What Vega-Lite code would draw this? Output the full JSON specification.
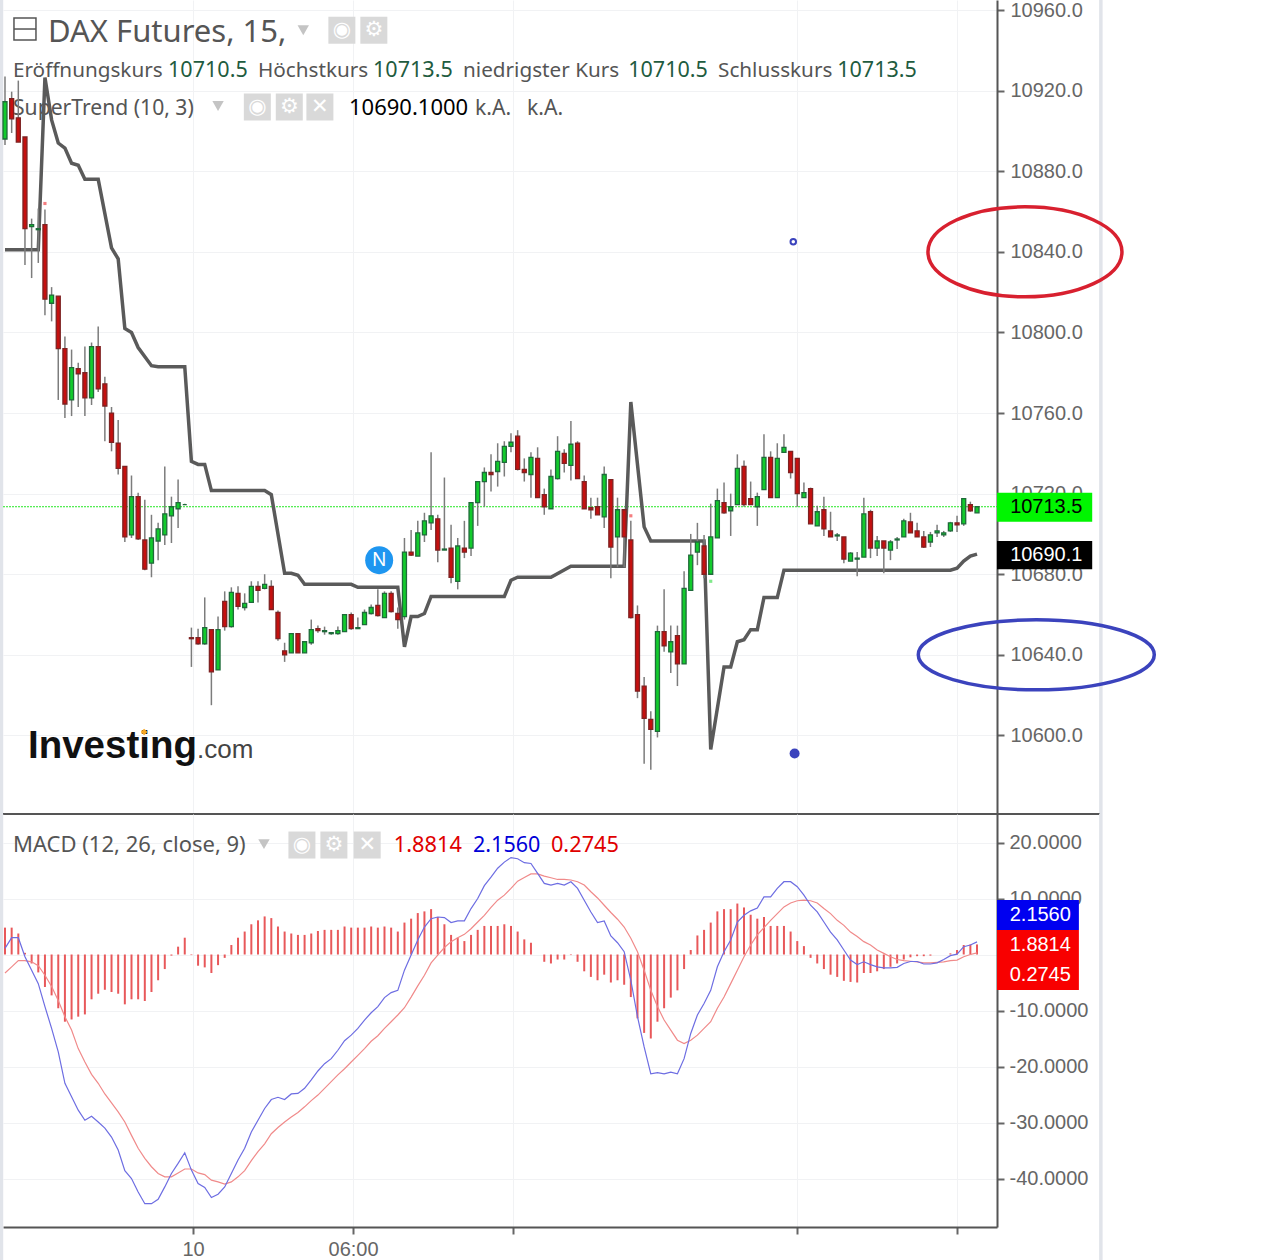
{
"$schema":"https://vega.github.io/schema/vega-lite/v6.json",
"description":"DAX Futures 15 minute candles with SuperTrend and MACD panels",
"background":"white",
"padding":{"top":-2,"left":-3,"right":0,"bottom":0},
"spacing":0,
"bounds":"flush",
"config":{"view":{"stroke":null},"text":{"font":"Noto Sans"},"concat":{"spacing":0}},
"datasets":{
"candles":[
{"bar":0,"open":10896,"high":10927,"low":10893,"close":10914.5},{"bar":1,"open":10916,"high":10919.5,"low":10899,"close":10906},{"bar":2,"open":10906.5,"high":10925,"low":10894.5,"close":10894.5},{"bar":3,"open":10897,"high":10897,"low":10833.5,"close":10851.5},{"bar":4,"open":10852.5,"high":10856.5,"low":10827,"close":10853.5},{"bar":5,"open":10851,"high":10861.5,"low":10834.5,"close":10851.5},{"bar":6,"open":10853.5,"high":10861,"low":10808.5,"close":10816.5},{"bar":7,"open":10814.5,"high":10822.5,"low":10805.5,"close":10818.5},{"bar":8,"open":10818,"high":10818,"low":10766.5,"close":10792},{"bar":9,"open":10792,"high":10798,"low":10757.5,"close":10764.5},
{"bar":10,"open":10766.5,"high":10791.5,"low":10758.5,"close":10782.5},{"bar":11,"open":10782,"high":10785,"low":10763,"close":10779.5},{"bar":12,"open":10780,"high":10793,"low":10758.5,"close":10767.5},{"bar":13,"open":10767.5,"high":10795,"low":10764,"close":10793},{"bar":14,"open":10793,"high":10803,"low":10770.5,"close":10772},{"bar":15,"open":10774.5,"high":10778,"low":10746,"close":10763.5},{"bar":16,"open":10760,"high":10763,"low":10741,"close":10745.5},{"bar":17,"open":10745,"high":10756.5,"low":10729.5,"close":10732.5},{"bar":18,"open":10733.5,"high":10733.5,"low":10696,"close":10698.5},{"bar":19,"open":10699.5,"high":10729,"low":10698,"close":10718.5},
{"bar":20,"open":10718.5,"high":10720.5,"low":10697,"close":10697.5},{"bar":21,"open":10697,"high":10717,"low":10682,"close":10682.5},{"bar":22,"open":10685.5,"high":10709.5,"low":10678.5,"close":10698},{"bar":23,"open":10696.5,"high":10705.5,"low":10687,"close":10702.5},{"bar":24,"open":10699.5,"high":10733.5,"low":10694.5,"close":10710},{"bar":25,"open":10709,"high":10718.5,"low":10695.5,"close":10713.5},{"bar":26,"open":10712.5,"high":10727,"low":10703,"close":10715.5},{"bar":27,"open":10714.5,"high":10715,"low":10714.5,"close":10714.5},{"bar":28,"open":10648.5,"high":10653.5,"low":10634,"close":10648},{"bar":29,"open":10648.5,"high":10653,"low":10645,"close":10645.5},
{"bar":30,"open":10645.5,"high":10668.5,"low":10645,"close":10653.5},{"bar":31,"open":10652.5,"high":10652.5,"low":10615,"close":10631.5},{"bar":32,"open":10632.5,"high":10659,"low":10632.5,"close":10652.5},{"bar":33,"open":10666.5,"high":10671.5,"low":10652,"close":10654},{"bar":34,"open":10654,"high":10673.5,"low":10653.5,"close":10671},{"bar":35,"open":10670.5,"high":10674,"low":10662.5,"close":10664},{"bar":36,"open":10663.5,"high":10670.5,"low":10662,"close":10665.5},{"bar":37,"open":10666,"high":10676.5,"low":10666,"close":10674},{"bar":38,"open":10674,"high":10676.5,"low":10666,"close":10672},{"bar":39,"open":10673,"high":10680,"low":10672.5,"close":10675},
{"bar":40,"open":10674,"high":10677,"low":10662.5,"close":10662.5},{"bar":41,"open":10661,"high":10662,"low":10647,"close":10648},{"bar":42,"open":10642,"high":10646,"low":10636.5,"close":10640},{"bar":43,"open":10641,"high":10650.5,"low":10641,"close":10650.5},{"bar":44,"open":10650.5,"high":10650.5,"low":10641,"close":10641},{"bar":45,"open":10641,"high":10646.5,"low":10641,"close":10646.5},{"bar":46,"open":10646,"high":10657.5,"low":10645,"close":10652.5},{"bar":47,"open":10653,"high":10654.5,"low":10651,"close":10652},{"bar":48,"open":10651.5,"high":10654,"low":10650,"close":10652},{"bar":49,"open":10650.5,"high":10651,"low":10650,"close":10651},
{"bar":50,"open":10650.5,"high":10654,"low":10650,"close":10652},{"bar":51,"open":10651.5,"high":10660,"low":10651.5,"close":10660},{"bar":52,"open":10660,"high":10661,"low":10652.5,"close":10653},{"bar":53,"open":10653,"high":10658.5,"low":10653,"close":10653.5},{"bar":54,"open":10655,"high":10662.5,"low":10655,"close":10661},{"bar":55,"open":10660.5,"high":10665,"low":10660,"close":10663.5},{"bar":56,"open":10664.5,"high":10672.5,"low":10659,"close":10659.5},{"bar":57,"open":10658.5,"high":10671.5,"low":10658.5,"close":10670.5},{"bar":58,"open":10670.5,"high":10671.5,"low":10661,"close":10661.5},{"bar":59,"open":10660.5,"high":10663.5,"low":10653,"close":10657.5},
{"bar":60,"open":10659,"high":10698,"low":10657.5,"close":10691},{"bar":61,"open":10691,"high":10702,"low":10689,"close":10689.5},{"bar":62,"open":10689,"high":10706.5,"low":10689,"close":10700.5},{"bar":63,"open":10699.5,"high":10710.5,"low":10696,"close":10706.5},{"bar":64,"open":10705.5,"high":10740.5,"low":10702,"close":10709},{"bar":65,"open":10707.5,"high":10709.5,"low":10686,"close":10692},{"bar":66,"open":10692,"high":10728,"low":10692,"close":10692.5},{"bar":67,"open":10693,"high":10704.5,"low":10675.5,"close":10678.5},{"bar":68,"open":10676.5,"high":10698,"low":10672.5,"close":10694},{"bar":69,"open":10693,"high":10706.5,"low":10688,"close":10691},
{"bar":70,"open":10693,"high":10715.5,"low":10689,"close":10715.5},{"bar":71,"open":10715.5,"high":10726,"low":10704,"close":10726},{"bar":72,"open":10726,"high":10733,"low":10713.5,"close":10730.5},{"bar":73,"open":10730.5,"high":10739.5,"low":10721,"close":10729.5},{"bar":74,"open":10731,"high":10745,"low":10723.5,"close":10736},{"bar":75,"open":10735.5,"high":10746,"low":10728.5,"close":10743.5},{"bar":76,"open":10743.5,"high":10750,"low":10740.5,"close":10745.5},{"bar":77,"open":10748.5,"high":10751.5,"low":10731.5,"close":10732},{"bar":78,"open":10732,"high":10737.5,"low":10726,"close":10730.5},{"bar":79,"open":10729.5,"high":10740.5,"low":10718,"close":10738},
{"bar":80,"open":10737.5,"high":10743,"low":10718,"close":10718},{"bar":81,"open":10719.5,"high":10722.5,"low":10709.5,"close":10713.5},{"bar":82,"open":10712.5,"high":10732,"low":10712.5,"close":10728.5},{"bar":83,"open":10727.5,"high":10748.5,"low":10727,"close":10741},{"bar":84,"open":10740,"high":10742,"low":10730.5,"close":10735},{"bar":85,"open":10734,"high":10756,"low":10726.5,"close":10744.5},{"bar":86,"open":10745,"high":10746,"low":10727.5,"close":10727.5},{"bar":87,"open":10726,"high":10729,"low":10712.5,"close":10712.5},{"bar":88,"open":10713,"high":10718,"low":10707.5,"close":10712},{"bar":89,"open":10713.5,"high":10718,"low":10709.5,"close":10709.5},
{"bar":90,"open":10708.5,"high":10733.5,"low":10703,"close":10729.5},{"bar":91,"open":10727,"high":10727,"low":10678,"close":10693.5},{"bar":92,"open":10698.5,"high":10718,"low":10683.5,"close":10712},{"bar":93,"open":10712,"high":10712,"low":10683.5,"close":10698.5},{"bar":94,"open":10697,"high":10706.5,"low":10658,"close":10658.5},{"bar":95,"open":10660,"high":10664.5,"low":10618.5,"close":10622},{"bar":96,"open":10624.5,"high":10629,"low":10586,"close":10608.5},{"bar":97,"open":10608,"high":10612,"low":10583,"close":10603},{"bar":98,"open":10602,"high":10654.5,"low":10599,"close":10651.5},{"bar":99,"open":10651.5,"high":10672.5,"low":10641.5,"close":10644.5},
{"bar":100,"open":10641.5,"high":10654.5,"low":10631,"close":10646.5},{"bar":101,"open":10649.5,"high":10654.5,"low":10624.5,"close":10635.5},{"bar":102,"open":10635.5,"high":10681.5,"low":10635.5,"close":10673},{"bar":103,"open":10672,"high":10700,"low":10672,"close":10689.5},{"bar":104,"open":10691,"high":10705.5,"low":10684.5,"close":10696},{"bar":105,"open":10694,"high":10699.5,"low":10678,"close":10680},{"bar":106,"open":10680,"high":10715,"low":10680,"close":10698.5},{"bar":107,"open":10698,"high":10722.5,"low":10698,"close":10716.5},{"bar":108,"open":10715.5,"high":10725.5,"low":10710,"close":10710.5},{"bar":109,"open":10711.5,"high":10720,"low":10699,"close":10713.5},
{"bar":110,"open":10714.5,"high":10739.5,"low":10714.5,"close":10732.5},{"bar":111,"open":10733.5,"high":10736.5,"low":10713.5,"close":10714.5},{"bar":112,"open":10717.5,"high":10726,"low":10714.5,"close":10714.5},{"bar":113,"open":10713.5,"high":10720.5,"low":10704,"close":10718.5},{"bar":114,"open":10722,"high":10749.5,"low":10722,"close":10738},{"bar":115,"open":10738,"high":10741,"low":10718,"close":10718},{"bar":116,"open":10718,"high":10745,"low":10718,"close":10737.5},{"bar":117,"open":10740.5,"high":10749.5,"low":10740.5,"close":10743},{"bar":118,"open":10741,"high":10741,"low":10727.5,"close":10730.5},{"bar":119,"open":10737.5,"high":10737.5,"low":10713.5,"close":10720},
{"bar":120,"open":10718,"high":10725.5,"low":10718,"close":10720.5},{"bar":121,"open":10722.5,"high":10723,"low":10705,"close":10705},{"bar":122,"open":10704,"high":10714,"low":10704,"close":10711},{"bar":123,"open":10712,"high":10718.5,"low":10699,"close":10702.5},{"bar":124,"open":10701.5,"high":10711,"low":10698.5,"close":10698.5},{"bar":125,"open":10699,"high":10700.5,"low":10696.5,"close":10699.5},{"bar":126,"open":10698.5,"high":10698.5,"low":10685.5,"close":10687.5},{"bar":127,"open":10686.5,"high":10691,"low":10686.5,"close":10690.5},{"bar":128,"open":10687.5,"high":10691,"low":10679,"close":10688},{"bar":129,"open":10688.5,"high":10718,"low":10688.5,"close":10710},
{"bar":130,"open":10711,"high":10712,"low":10688,"close":10693},{"bar":131,"open":10693,"high":10699,"low":10689,"close":10696.5},{"bar":132,"open":10696.5,"high":10696.5,"low":10680.5,"close":10693},{"bar":133,"open":10692,"high":10697,"low":10687,"close":10696},{"bar":134,"open":10697,"high":10698.5,"low":10692.5,"close":10697.5},{"bar":135,"open":10698.5,"high":10707.5,"low":10698.5,"close":10706.5},{"bar":136,"open":10706,"high":10710.5,"low":10700.5,"close":10700.5},{"bar":137,"open":10701.5,"high":10705.5,"low":10698.5,"close":10698.5},{"bar":138,"open":10698.5,"high":10701.5,"low":10693,"close":10693.5},{"bar":139,"open":10696,"high":10701,"low":10693.5,"close":10699.5},
{"bar":140,"open":10700.5,"high":10704.5,"low":10698.5,"close":10701.5},{"bar":141,"open":10699.5,"high":10701.5,"low":10698.5,"close":10700.5},{"bar":142,"open":10701.5,"high":10706,"low":10701,"close":10705.5},{"bar":143,"open":10705.5,"high":10709,"low":10701,"close":10704.5},{"bar":144,"open":10705,"high":10717.5,"low":10704,"close":10717.5},{"bar":145,"open":10714.5,"high":10716,"low":10711,"close":10711.5},{"bar":146,"open":10710.5,"high":10713.5,"low":10710.5,"close":10713.5}
],
"supertrend":[
{"bar":0,"price":10841},{"bar":5,"price":10841},{"bar":6,"price":10926.5},{"bar":7,"price":10905.5},{"bar":8,"price":10894},{"bar":9,"price":10891.5},{"bar":10,"price":10884},{"bar":11,"price":10883},{"bar":12,"price":10876},{"bar":14,"price":10876},{"bar":16,"price":10842},{"bar":17,"price":10836.5},{"bar":18,"price":10802},{"bar":19,"price":10800},{"bar":20,"price":10792.5},{"bar":22,"price":10783.5},{"bar":23,"price":10783},{"bar":27,"price":10783},{"bar":28,"price":10736},{"bar":29,"price":10734.5},{"bar":30,"price":10734.5},{"bar":31,"price":10721.5},{"bar":39,"price":10721.5},{"bar":40,"price":10719.5},{"bar":42,"price":10680.5},{"bar":43,"price":10680.5},{"bar":44,"price":10679.5},{"bar":45,"price":10675},{"bar":52,"price":10675},{"bar":53,"price":10673.5},{"bar":59,"price":10673.5},{"bar":60,"price":10644},{"bar":61,"price":10659},{"bar":62,"price":10659},{"bar":63,"price":10660.5},{"bar":64,"price":10669},{"bar":75,"price":10669},{"bar":76,"price":10677},{"bar":77,"price":10678.5},{"bar":82,"price":10678.5},{"bar":85,"price":10684},{"bar":93,"price":10684},{"bar":94,"price":10765.5},{"bar":96,"price":10703.5},{"bar":97,"price":10696.5},{"bar":105,"price":10696.5},{"bar":106,"price":10593},{"bar":108,"price":10634},{"bar":109,"price":10634},{"bar":110,"price":10646.5},{"bar":111,"price":10647.5},{"bar":112,"price":10652.5},{"bar":113,"price":10652.5},{"bar":114,"price":10668.5},{"bar":116,"price":10668.5},{"bar":117,"price":10682},{"bar":142,"price":10682},{"bar":143,"price":10683},{"bar":144,"price":10686.5},{"bar":145,"price":10689},{"bar":146,"price":10690}
],
"macd":[
{"bar":0,"macd":1.1,"signal":-3.3,"hist":4.8},{"bar":1,"macd":3,"signal":-2.2,"hist":4.8},{"bar":2,"macd":3,"signal":-1.1,"hist":3.75},{"bar":3,"macd":-0.4,"signal":-1.1,"hist":0.3},{"bar":4,"macd":-2.8,"signal":-1.3,"hist":-1.6},{"bar":5,"macd":-5.2,"signal":-2,"hist":-3.2},{"bar":6,"macd":-9.3,"signal":-3.7,"hist":-5.8},{"bar":7,"macd":-13.2,"signal":-5.7,"hist":-7.3},{"bar":8,"macd":-17.4,"signal":-8.2,"hist":-9.6},{"bar":9,"macd":-23,"signal":-11.1,"hist":-12},
{"bar":10,"macd":-25.4,"signal":-13.5,"hist":-11.6},{"bar":11,"macd":-27.8,"signal":-16.8,"hist":-11.1},{"bar":12,"macd":-29.6,"signal":-19.2,"hist":-10.7},{"bar":13,"macd":-28.9,"signal":-21.4,"hist":-8},{"bar":14,"macd":-29.9,"signal":-23,"hist":-7},{"bar":15,"macd":-31,"signal":-24.9,"hist":-6.3},{"bar":16,"macd":-32.6,"signal":-26.5,"hist":-6.7},{"bar":17,"macd":-34.9,"signal":-28.1,"hist":-7},{"bar":18,"macd":-38.6,"signal":-29.9,"hist":-8.9},{"bar":19,"macd":-40,"signal":-32.3,"hist":-8},
{"bar":20,"macd":-42.4,"signal":-34.6,"hist":-8},{"bar":21,"macd":-44.5,"signal":-36.4,"hist":-8.3},{"bar":22,"macd":-44.5,"signal":-37.9,"hist":-6.7},{"bar":23,"macd":-43.7,"signal":-39.1,"hist":-4.6},{"bar":24,"macd":-41.5,"signal":-39.7,"hist":-2.6},{"bar":25,"macd":-39.1,"signal":-39.7,"hist":-0.2},{"bar":26,"macd":-37.3,"signal":-39,"hist":1.4},{"bar":27,"macd":-35.4,"signal":-38.3,"hist":3},{"bar":28,"macd":-38.5,"signal":-38.3,"hist":-0.1},{"bar":29,"macd":-40.9,"signal":-39,"hist":-2},
{"bar":30,"macd":-41.6,"signal":-39.3,"hist":-2.3},{"bar":31,"macd":-43.4,"signal":-40.3,"hist":-3.3},{"bar":32,"macd":-42.8,"signal":-40.6,"hist":-1.9},{"bar":33,"macd":-41.5,"signal":-41,"hist":-0.6},{"bar":34,"macd":-39.1,"signal":-40.6,"hist":1.7},{"bar":35,"macd":-36.7,"signal":-39.7,"hist":3},{"bar":36,"macd":-34.6,"signal":-38.6,"hist":4.1},{"bar":37,"macd":-31.7,"signal":-36.8,"hist":5.4},{"bar":38,"macd":-29.6,"signal":-35.2,"hist":6.1},{"bar":39,"macd":-27.5,"signal":-33.8,"hist":6.8},
{"bar":40,"macd":-25.9,"signal":-32,"hist":6.5},{"bar":41,"macd":-25.5,"signal":-30.9,"hist":5},{"bar":42,"macd":-25.9,"signal":-29.9,"hist":4.1},{"bar":43,"macd":-24.9,"signal":-29,"hist":3.75},{"bar":44,"macd":-24.8,"signal":-28.2,"hist":3.5},{"bar":45,"macd":-23.9,"signal":-27.2,"hist":3.5},{"bar":46,"macd":-22.4,"signal":-26.1,"hist":3.75},{"bar":47,"macd":-20.8,"signal":-25.1,"hist":4.2},{"bar":48,"macd":-19.5,"signal":-23.9,"hist":4.4},{"bar":49,"macd":-18.6,"signal":-22.7,"hist":4.4},
{"bar":50,"macd":-17.1,"signal":-21.5,"hist":4.4},{"bar":51,"macd":-15.4,"signal":-20.4,"hist":5},{"bar":52,"macd":-14.4,"signal":-19.2,"hist":4.8},{"bar":53,"macd":-13.2,"signal":-18,"hist":4.8},{"bar":54,"macd":-11.7,"signal":-16.8,"hist":4.8},{"bar":55,"macd":-10.4,"signal":-15.5,"hist":5},{"bar":56,"macd":-9.3,"signal":-14.5,"hist":4.8},{"bar":57,"macd":-7.7,"signal":-13.2,"hist":5},{"bar":58,"macd":-6.8,"signal":-12,"hist":4.8},{"bar":59,"macd":-6.4,"signal":-10.8,"hist":4.1},
{"bar":60,"macd":-2.8,"signal":-9.5,"hist":5.7},{"bar":61,"macd":-0.1,"signal":-7.6,"hist":6.4},{"bar":62,"macd":2.6,"signal":-5.6,"hist":7.4},{"bar":63,"macd":4.9,"signal":-3.7,"hist":7.7},{"bar":64,"macd":6.4,"signal":-1.5,"hist":8.1},{"bar":65,"macd":6.7,"signal":-0.1,"hist":6.7},{"bar":66,"macd":6.6,"signal":1.25,"hist":5.4},{"bar":67,"macd":5.7,"signal":2.3,"hist":3.5},{"bar":68,"macd":6,"signal":3,"hist":3},{"bar":69,"macd":6,"signal":3.6,"hist":2.4},
{"bar":70,"macd":8.2,"signal":4.6,"hist":3.5},{"bar":71,"macd":10,"signal":5.8,"hist":4.4},{"bar":72,"macd":12.3,"signal":7,"hist":5.1},{"bar":73,"macd":13.8,"signal":8.4,"hist":5.1},{"bar":74,"macd":15.4,"signal":9.7,"hist":5.1},{"bar":75,"macd":16.5,"signal":10.6,"hist":5.4},{"bar":76,"macd":17.3,"signal":11.8,"hist":5.1},{"bar":77,"macd":17.1,"signal":13.1,"hist":4.1},{"bar":78,"macd":16.4,"signal":13.75,"hist":2.7},{"bar":79,"macd":16.25,"signal":14.4,"hist":2.1},
{"bar":80,"macd":14.5,"signal":14.4,"hist":0},{"bar":81,"macd":12.7,"signal":14,"hist":-1.3},{"bar":82,"macd":12.4,"signal":13.7,"hist":-1.6},{"bar":83,"macd":12.7,"signal":13.4,"hist":-0.9},{"bar":84,"macd":12.4,"signal":13.4,"hist":-0.9},{"bar":85,"macd":13,"signal":13.3,"hist":-0.1},{"bar":86,"macd":11.8,"signal":13,"hist":-1.3},{"bar":87,"macd":9.7,"signal":12.4,"hist":-3},{"bar":88,"macd":7.6,"signal":11.2,"hist":-4},{"bar":89,"macd":5.7,"signal":10.1,"hist":-4.6},
{"bar":90,"macd":6,"signal":8.8,"hist":-3.6},{"bar":91,"macd":3.3,"signal":7.5,"hist":-5},{"bar":92,"macd":2.1,"signal":6.3,"hist":-4.6},{"bar":93,"macd":0.5,"signal":4.9,"hist":-5.4},{"bar":94,"macd":-4.6,"signal":2.9,"hist":-7.6},{"bar":95,"macd":-11.1,"signal":0.5,"hist":-11.4},{"bar":96,"macd":-16.5,"signal":-2.8,"hist":-14},{"bar":97,"macd":-21.3,"signal":-6.4,"hist":-15},{"bar":98,"macd":-21.1,"signal":-9.3,"hist":-12},{"bar":99,"macd":-21.3,"signal":-11.7,"hist":-9.6},
{"bar":100,"macd":-21,"signal":-13.5,"hist":-7.7},{"bar":101,"macd":-21.3,"signal":-15.3,"hist":-6.4},{"bar":102,"macd":-18.6,"signal":-15.9,"hist":-2.6},{"bar":103,"macd":-14.1,"signal":-15.3,"hist":0.8},{"bar":104,"macd":-10.8,"signal":-14.4,"hist":3.4},{"bar":105,"macd":-8.75,"signal":-13.2,"hist":4.4},{"bar":106,"macd":-6.4,"signal":-12,"hist":5.7},{"bar":107,"macd":-2.2,"signal":-9.6,"hist":7.7},{"bar":108,"macd":0.5,"signal":-7.6,"hist":8.1},{"bar":109,"macd":2.6,"signal":-5.2,"hist":8.1},
{"bar":110,"macd":5.8,"signal":-2.8,"hist":9.1},{"bar":111,"macd":7,"signal":-0.4,"hist":8.4},{"bar":112,"macd":7.8,"signal":1.7,"hist":7.1},{"bar":113,"macd":8.3,"signal":3.5,"hist":6.4},{"bar":114,"macd":10.3,"signal":4.8,"hist":6.7},{"bar":115,"macd":10.3,"signal":6.1,"hist":5.1},{"bar":116,"macd":11.8,"signal":7.3,"hist":5.1},{"bar":117,"macd":13,"signal":8.5,"hist":5.1},{"bar":118,"macd":13,"signal":9.2,"hist":4.1},{"bar":119,"macd":12.1,"signal":9.6,"hist":2.4},
{"bar":120,"macd":10.6,"signal":9.7,"hist":1.5},{"bar":121,"macd":8.8,"signal":9.6,"hist":-0.6},{"bar":122,"macd":7.6,"signal":9.2,"hist":-1.6},{"bar":123,"macd":5.8,"signal":8.2,"hist":-2.6},{"bar":124,"macd":4,"signal":7.3,"hist":-3.6},{"bar":125,"macd":2.6,"signal":6.1,"hist":-4},{"bar":126,"macd":0.8,"signal":5.2,"hist":-4.7},{"bar":127,"macd":-1,"signal":4,"hist":-4.9},{"bar":128,"macd":-1.8,"signal":3.2,"hist":-5},{"bar":129,"macd":-1.3,"signal":2.3,"hist":-3.3},
{"bar":130,"macd":-1.8,"signal":1.7,"hist":-3.3},{"bar":131,"macd":-2.2,"signal":0.8,"hist":-3},{"bar":132,"macd":-2.4,"signal":0.2,"hist":-2.6},{"bar":133,"macd":-2.4,"signal":-0.4,"hist":-2.2},{"bar":134,"macd":-2.3,"signal":-0.9,"hist":-1.6},{"bar":135,"macd":-1.6,"signal":-1.1,"hist":-0.9},{"bar":136,"macd":-1.25,"signal":-1.2,"hist":-0.5},{"bar":137,"macd":-1.25,"signal":-1.3,"hist":-0.3},{"bar":138,"macd":-1.7,"signal":-1.5,"hist":-0.3},{"bar":139,"macd":-1.7,"signal":-1.5,"hist":-0.2},
{"bar":140,"macd":-1.5,"signal":-1.4,"hist":0},{"bar":141,"macd":-0.9,"signal":-1.3,"hist":0},{"bar":142,"macd":-0.2,"signal":-1.1,"hist":0.2},{"bar":143,"macd":0.06,"signal":-1,"hist":0.8},{"bar":144,"macd":1.4,"signal":-0.4,"hist":1.7},{"bar":145,"macd":1.7,"signal":0,"hist":1.8},{"bar":146,"macd":2.26,"signal":0.3,"hist":1.8}
],
"legendTop":[
{"bar":1.2,"price":10926.8,"text":"Eröffnungskurs","role":"name"},{"bar":24.49,"price":10926.8,"text":"10710.5","role":"value"},{"bar":38,"price":10926.8,"text":"Höchstkurs","role":"name"},{"bar":55.28,"price":10926.8,"text":"10713.5","role":"value"},{"bar":68.8,"price":10926.8,"text":"niedrigster Kurs","role":"name"},{"bar":93.6,"price":10926.8,"text":"10710.5","role":"value"},{"bar":107.1,"price":10926.8,"text":"Schlusskurs","role":"name"},{"bar":125,"price":10926.8,"text":"10713.5","role":"value"},
{"bar":1.2,"price":10907.9,"text":"SuperTrend (10, 3)","role":"study"},{"bar":51.67,"price":10907.9,"text":"10690.1000","role":"last"},{"bar":70.6,"price":10907.9,"text":"k.A.","role":"study"},{"bar":78.4,"price":10907.9,"text":"k.A.","role":"study"}
],
"legendBottom":[
{"bar":1.2,"value":18.3,"text":"MACD (12, 26, close, 9)","role":"name"},{"bar":58.4,"value":18.3,"text":"1.8814","role":"red"},{"bar":70.3,"value":18.3,"text":"2.1560","role":"blue"},{"bar":82,"value":18.3,"text":"0.2745","role":"red"}
],
"iconsTop":[
{"bar":50.6,"price":10950,"glyph":"◉"},{"bar":55.4,"price":10950,"glyph":"⚙"},{"bar":37.9,"price":10911.9,"glyph":"◉"},{"bar":42.7,"price":10911.9,"glyph":"⚙"},{"bar":47.3,"price":10911.9,"glyph":"✕"}
],
"iconsBottom":[
{"bar":44.6,"value":19.55,"glyph":"◉"},{"bar":49.4,"value":19.55,"glyph":"⚙"},{"bar":54.4,"value":19.55,"glyph":"✕"}
]
},
"vconcat":[
{
"width":994,"height":814,
"encoding":{"x":{"field":"bar","type":"quantitative","title":null,"scale":{"domain":[-0.3,149],"nice":false,"zero":false,"padding":0},"axis":{"values":[28.24,52.28,76.31,118.97,143],"labels":false,"ticks":false,"domain":false,"grid":true,"gridColor":"#f1f2f4","gridWidth":1}}},
"layer":[
{"data":{"values":[{"bar":-0.53,"from":10561,"to":10965},{"bar":164.6,"from":10561,"to":10965}]},"mark":{"type":"rule","color":"#e1e4ea","strokeWidth":3.5,"clip":false},
 "encoding":{"y":{"field":"from","type":"quantitative","title":null,"scale":{"domain":[10561,10965],"nice":false,"zero":false},"axis":{"orient":"right","values":[10600,10640,10680,10720,10760,10800,10840,10880,10920,10960],"format":".1f","grid":true,"gridColor":"#f1f2f4","domainColor":"#555555","domainWidth":2,"tickColor":"#666666","tickWidth":2,"tickSize":7,"labelPadding":6,"labelFont":"Liberation Sans","labelFontSize":20,"labelColor":"#666666"}},"y2":{"field":"to"}}},
{"data":{"values":[{"bar":-0.3,"bar2":164.4,"price":10561}]},"mark":{"type":"rule","color":"#555555","strokeWidth":2,"clip":false},
 "encoding":{"x2":{"field":"bar2"},"y":{"field":"price","type":"quantitative","title":null,"scale":{"domain":[10561,10965],"nice":false,"zero":false}}}},
{"data":{"name":"legendTop"},"mark":{"type":"text","align":"left","baseline":"alphabetic"},
 "encoding":{"y":{"field":"price","type":"quantitative","title":null,"scale":{"domain":[10561,10965],"nice":false,"zero":false}},"text":{"field":"text"},"size":{"field":"role","type":"nominal","legend":null,"scale":{"domain":["name","study","value","last"],"range":[20.7,22,21,20.3]}},"color":{"field":"role","legend":null,"scale":{"domain":["name","study","value","last"],"range":["#555555","#555555","#1f5c3f","#000000"]}}}},
{"data":{"values":[{"bar":6.46,"price":10944.1,"text":"DAX Futures, 15,"}]},"mark":{"type":"text","align":"left","baseline":"alphabetic","fontSize":31,"color":"#555555"},
 "encoding":{"y":{"field":"price","type":"quantitative","title":null,"scale":{"domain":[10561,10965],"nice":false,"zero":false}},"text":{"field":"text"}}},
{"data":{"values":[{"bar":3,"price":10950.6}]},"mark":{"type":"point","shape":"square","size":484,"filled":false,"stroke":"#555555","strokeWidth":1.5,"opacity":1},
 "encoding":{"y":{"field":"price","type":"quantitative","title":null,"scale":{"domain":[10561,10965],"nice":false,"zero":false}}}},
{"data":{"values":[{"bar":3,"price":10950.6}]},"mark":{"type":"point","shape":"M-1,0H1","size":484,"filled":false,"stroke":"#555555","strokeWidth":1.5,"opacity":1},
 "encoding":{"y":{"field":"price","type":"quantitative","title":null,"scale":{"domain":[10561,10965],"nice":false,"zero":false}}}},
{"data":{"values":[{"bar":44.8,"price":10950},{"bar":32,"price":10912.4}]},"mark":{"type":"point","shape":"triangle-down","size":130,"filled":true,"color":"#c4c4c4","opacity":1},
 "encoding":{"y":{"field":"price","type":"quantitative","title":null,"scale":{"domain":[10561,10965],"nice":false,"zero":false}}}},
{"data":{"name":"iconsTop"},"mark":{"type":"point","shape":"square","size":729,"filled":true,"color":"#d9d9d9","opacity":1},
 "encoding":{"y":{"field":"price","type":"quantitative","title":null,"scale":{"domain":[10561,10965],"nice":false,"zero":false}}}},
{"data":{"name":"iconsTop"},"mark":{"type":"text","font":"DejaVu Sans","fontSize":21,"color":"white","baseline":"middle"},
 "encoding":{"y":{"field":"price","type":"quantitative","title":null,"scale":{"domain":[10561,10965],"nice":false,"zero":false}},"text":{"field":"glyph"}}},
{"data":{"values":[{"bar":3.45,"price":10588.8,"text":"Investing"}]},"mark":{"type":"text","align":"left","baseline":"alphabetic","font":"Liberation Sans","fontWeight":"bold","fontSize":38.5,"color":"#111111"},
 "encoding":{"y":{"field":"price","type":"quantitative","title":null,"scale":{"domain":[10561,10965],"nice":false,"zero":false}},"text":{"field":"text"}}},
{"data":{"values":[{"bar":28.85,"price":10588.8,"text":".com"}]},"mark":{"type":"text","align":"left","baseline":"alphabetic","font":"Liberation Sans","fontSize":26,"color":"#444444"},
 "encoding":{"y":{"field":"price","type":"quantitative","title":null,"scale":{"domain":[10561,10965],"nice":false,"zero":false}},"text":{"field":"text"}}},
{"data":{"values":[{"bar":20.9,"price":10601.7}]},"mark":{"type":"point","shape":"diamond","size":45,"filled":true,"color":"#f5a623","opacity":1},
 "encoding":{"y":{"field":"price","type":"quantitative","title":null,"scale":{"domain":[10561,10965],"nice":false,"zero":false}}}},
{"data":{"values":[{"bar":-0.3,"bar2":149,"price":10713.5}]},"mark":{"type":"rule","color":"#22e622","strokeWidth":1,"strokeDash":[2,1]},
 "encoding":{"x2":{"field":"bar2"},"y":{"field":"price","type":"quantitative","title":null,"scale":{"domain":[10561,10965],"nice":false,"zero":false}}}},
{"data":{"name":"supertrend"},"mark":{"type":"line","color":"#5a5a5a","strokeWidth":3.5,"strokeJoin":"miter","strokeMiterLimit":4},
 "encoding":{"y":{"field":"price","type":"quantitative","title":null,"scale":{"domain":[10561,10965],"nice":false,"zero":false}}}},
{"data":{"name":"candles"},"mark":{"type":"rule","color":"#7c7c7c","strokeWidth":1.5},
 "encoding":{"y":{"field":"low","type":"quantitative","title":null,"scale":{"domain":[10561,10965],"nice":false,"zero":false}},"y2":{"field":"high"}}},
{"data":{"name":"candles"},"mark":{"type":"bar","size":4,"strokeWidth":1.3},
 "encoding":{"y":{"field":"open","type":"quantitative","title":null,"scale":{"domain":[10561,10965],"nice":false,"zero":false}},"y2":{"field":"close"},
  "fill":{"condition":{"test":"datum.close>=datum.open","value":"#12cb2c"},"value":"#c5100f"},
  "stroke":{"condition":{"test":"datum.close>=datum.open","value":"#1f6a3a"},"value":"#7d2222"}}},
{"data":{"values":[{"bar":6,"price":10864,"kind":"down"},{"bar":94,"price":10709,"kind":"down"},{"bar":106,"price":10676.5,"kind":"up"}]},"mark":{"type":"point","shape":"square","size":10,"filled":true,"opacity":0.7},
 "encoding":{"y":{"field":"price","type":"quantitative","title":null,"scale":{"domain":[10561,10965],"nice":false,"zero":false}},"color":{"field":"kind","legend":null,"scale":{"domain":["down","up"],"range":["#f0474a","#4be05a"]}}}},
{"data":{"values":[{"bar":118.4,"price":10845}]},"mark":{"type":"point","shape":"circle","size":30,"filled":false,"stroke":"#3b43bd","strokeWidth":2,"opacity":1},
 "encoding":{"y":{"field":"price","type":"quantitative","title":null,"scale":{"domain":[10561,10965],"nice":false,"zero":false}}}},
{"data":{"values":[{"bar":118.6,"price":10591}]},"mark":{"type":"point","shape":"circle","size":100,"filled":true,"color":"#3b43bd","opacity":1},
 "encoding":{"y":{"field":"price","type":"quantitative","title":null,"scale":{"domain":[10561,10965],"nice":false,"zero":false}}}},
{"data":{"values":[{"bar":56.2,"price":10687,"text":"N"}]},"mark":{"type":"point","shape":"circle","size":784,"filled":true,"color":"#1e96f0","opacity":1},
 "encoding":{"y":{"field":"price","type":"quantitative","title":null,"scale":{"domain":[10561,10965],"nice":false,"zero":false}}}},
{"data":{"values":[{"bar":56.2,"price":10687,"text":"N"}]},"mark":{"type":"text","baseline":"middle","fontSize":19,"color":"white"},
 "encoding":{"y":{"field":"price","type":"quantitative","title":null,"scale":{"domain":[10561,10965],"nice":false,"zero":false}},"text":{"field":"text"}}},
{"data":{"values":[{"bar":149,"to":163.3,"top":10720.5,"bottom":10706,"kind":"close"},{"bar":149,"to":163.3,"top":10696.5,"bottom":10682.5,"kind":"trend"}]},"mark":{"type":"rect","clip":false},
 "encoding":{"x2":{"field":"to"},"y":{"field":"top","type":"quantitative","title":null,"scale":{"domain":[10561,10965],"nice":false,"zero":false}},"y2":{"field":"bottom"},"fill":{"field":"kind","legend":null,"scale":{"domain":["close","trend"],"range":["#00f500","#000000"]}}}},
{"data":{"values":[{"bar":156.4,"middle":10713.2,"label":"10713.5","kind":"close"},{"bar":156.4,"middle":10689.5,"label":"10690.1","kind":"trend"}]},"mark":{"type":"text","baseline":"middle","font":"Liberation Sans","fontSize":20,"clip":false},
 "encoding":{"y":{"field":"middle","type":"quantitative","title":null,"scale":{"domain":[10561,10965],"nice":false,"zero":false}},"text":{"field":"label"},"color":{"field":"kind","legend":null,"scale":{"domain":["close","trend"],"range":["#000000","#ffffff"]}}}},
{"data":{"values":[{"bar":153.2,"price":10840}]},"mark":{"type":"point","shape":"M-1,0A1,0.464,0,1,1,1,0A1,0.464,0,1,1,-1,0Z","size":37636,"filled":false,"stroke":"#d8202f","strokeWidth":3.5,"opacity":1,"clip":false},
 "encoding":{"y":{"field":"price","type":"quantitative","title":null,"scale":{"domain":[10561,10965],"nice":false,"zero":false}}}},
{"data":{"values":[{"bar":154.9,"price":10640}]},"mark":{"type":"point","shape":"M-1,0A1,0.297,0,1,1,1,0A1,0.297,0,1,1,-1,0Z","size":55696,"filled":false,"stroke":"#3b43bd","strokeWidth":3.5,"opacity":1,"clip":false},
 "encoding":{"y":{"field":"price","type":"quantitative","title":null,"scale":{"domain":[10561,10965],"nice":false,"zero":false}}}}
],
"resolve":{"scale":{"color":"independent","fill":"independent","size":"independent"}}
},
{
"width":994,"height":413,
"encoding":{"x":{"field":"bar","type":"quantitative","title":null,"scale":{"domain":[-0.3,149],"nice":false,"zero":false,"padding":0},"axis":{"values":[28.24,52.28,76.31,118.97,143],"labelExpr":"datum.value==28.24?'10':datum.value==52.28?'06:00':''","grid":true,"gridColor":"#f1f2f4","domainColor":"#555555","domainWidth":2,"tickColor":"#666666","tickWidth":2,"tickSize":7,"labelPadding":5,"labelFont":"Liberation Sans","labelFontSize":20,"labelColor":"#666666"}}},
"layer":[
{"data":{"values":[{"bar":-0.53,"from":25.09,"to":-54.55},{"bar":164.6,"from":25.09,"to":-54.55}]},"mark":{"type":"rule","color":"#e1e4ea","strokeWidth":3.5,"clip":false},
 "encoding":{"y":{"field":"from","type":"quantitative","title":null,"scale":{"domain":[-48.66,25.09],"nice":false,"zero":false},"axis":{"orient":"right","values":[-40,-30,-20,-10,0,10,20],"labelExpr":"(datum.value<0?'-':'')+format(abs(datum.value),'.4f')","grid":true,"gridColor":"#f1f2f4","domainColor":"#555555","domainWidth":2,"tickColor":"#666666","tickWidth":2,"tickSize":7,"labelPadding":5,"labelFont":"Liberation Sans","labelFontSize":20,"labelColor":"#666666"}},"y2":{"field":"to"}}},
{"data":{"name":"legendBottom"},"mark":{"type":"text","align":"left","baseline":"alphabetic"},
 "encoding":{"y":{"field":"value","type":"quantitative","title":null,"scale":{"domain":[-48.66,25.09],"nice":false,"zero":false}},"text":{"field":"text"},"size":{"field":"role","type":"nominal","legend":null,"scale":{"domain":["name","red","blue"],"range":[22,21.5,21.5]}},"color":{"field":"role","legend":null,"scale":{"domain":["name","red","blue"],"range":["#555555","#e00000","#0000d8"]}}}},
{"data":{"values":[{"bar":38.9,"value":19.7}]},"mark":{"type":"point","shape":"triangle-down","size":130,"filled":true,"color":"#c4c4c4","opacity":1},
 "encoding":{"y":{"field":"value","type":"quantitative","title":null,"scale":{"domain":[-48.66,25.09],"nice":false,"zero":false}}}},
{"data":{"name":"iconsBottom"},"mark":{"type":"point","shape":"square","size":729,"filled":true,"color":"#d9d9d9","opacity":1},
 "encoding":{"y":{"field":"value","type":"quantitative","title":null,"scale":{"domain":[-48.66,25.09],"nice":false,"zero":false}}}},
{"data":{"name":"iconsBottom"},"mark":{"type":"text","font":"DejaVu Sans","fontSize":21,"color":"white","baseline":"middle"},
 "encoding":{"y":{"field":"value","type":"quantitative","title":null,"scale":{"domain":[-48.66,25.09],"nice":false,"zero":false}},"text":{"field":"glyph"}}},
{"data":{"name":"macd"},"mark":{"type":"rule","color":"#e8585a","strokeWidth":2},
 "encoding":{"y":{"field":"hist","type":"quantitative","title":null,"scale":{"domain":[-48.66,25.09],"nice":false,"zero":false}},"y2":{"datum":0}}},
{"data":{"name":"macd"},"mark":{"type":"line","color":"#f08a8a","strokeWidth":1.2},
 "encoding":{"y":{"field":"signal","type":"quantitative","title":null,"scale":{"domain":[-48.66,25.09],"nice":false,"zero":false}}}},
{"data":{"name":"macd"},"mark":{"type":"line","color":"#6d6de2","strokeWidth":1.2},
 "encoding":{"y":{"field":"macd","type":"quantitative","title":null,"scale":{"domain":[-48.66,25.09],"nice":false,"zero":false}}}},
{"data":{"values":[{"bar":149,"to":161.3,"top":9.73,"bottom":4.375,"kind":"macd"},{"bar":149,"to":161.3,"top":4.375,"bottom":-0.98,"kind":"signal"},{"bar":149,"to":161.3,"top":-0.98,"bottom":-6.34,"kind":"hist"}]},"mark":{"type":"rect","clip":false},
 "encoding":{"x2":{"field":"to"},"y":{"field":"top","type":"quantitative","title":null,"scale":{"domain":[-48.66,25.09],"nice":false,"zero":false}},"y2":{"field":"bottom"},"fill":{"field":"kind","legend":null,"scale":{"domain":["macd","signal","hist"],"range":["#0000f0","#f80000","#f80000"]}}}},
{"data":{"values":[{"bar":155.5,"middle":7.05,"label":"2.1560"},{"bar":155.5,"middle":1.7,"label":"1.8814"},{"bar":155.5,"middle":-3.66,"label":"0.2745"}]},"mark":{"type":"text","baseline":"middle","font":"Liberation Sans","fontSize":20,"color":"white","clip":false},
 "encoding":{"y":{"field":"middle","type":"quantitative","title":null,"scale":{"domain":[-48.66,25.09],"nice":false,"zero":false}},"text":{"field":"label"}}}
],
"resolve":{"scale":{"color":"independent","fill":"independent","size":"independent"}}
}
]
}
